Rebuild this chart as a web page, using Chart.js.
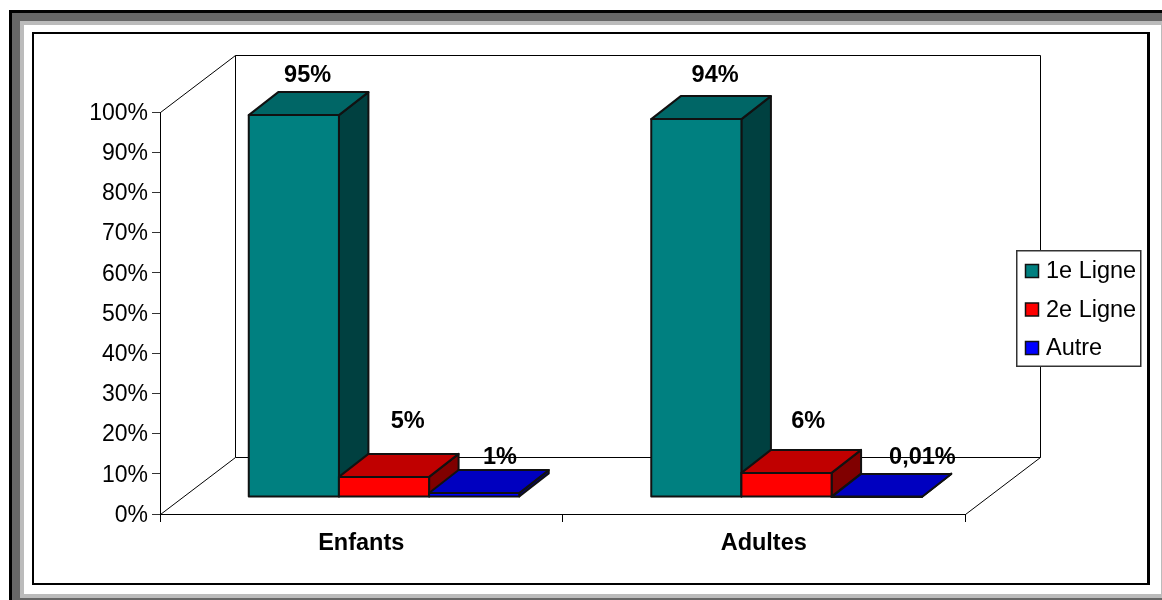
<!DOCTYPE html>
<html lang="fr">
<head>
<meta charset="utf-8">
<title>1e Ligne / 2e Ligne</title>
<script src="https://cdn.jsdelivr.net/npm/chart.js@4"></script>
<style>
  html, body { margin: 0; padding: 0; background: #fff; overflow: hidden; }
  #page { position: relative; width: 1162px; height: 600px; }
  #page div { position: absolute; }
  #page canvas { position: absolute; left: 0; top: 0; }
  #box { left: 32px; top: 32px; width: 1113px; height: 549px; border: 2px solid #000; border-right-width: 3px; border-bottom-width: 2px; }
</style>
</head>
<body>
<div id="page">
  <!-- picture frame, outer to inner -->
  <div style="left:9px;top:10px;width:1153px;height:590px;background:#000"></div>
  <div style="left:12px;top:13px;width:1150px;height:587px;background:#666"></div>
  <div style="left:20px;top:21px;width:1142px;height:577px;background:#bbb"></div>
  <div style="left:24px;top:25px;width:1137px;height:569px;background:#fff"></div>
  <div id="box"></div>
  <canvas id="chart" width="1162" height="600"></canvas>
</div>

<script>
    // --- Data ---
    const categories = ['Enfants', 'Adultes'];
    const firstLine = [95, 94];
    const secondLine = [5, 6];
    const otherLine = [1, 0.01];
    const seriesNames = ['1e Ligne', '2e Ligne', 'Autre'];

    // --- Colours: front, top and side of each bar ---
    const frontColors = ['#008080', '#ff0000', '#0000ff'];
    const topColors = ['#006666', '#c00000', '#0000c0'];
    const sideColors = ['#004040', '#800000', '#000080'];

    // --- 3D look ---
    const FONT = '"Liberation Sans", Arial, sans-serif';
    const floorDepth = { x: 75, y: -57 };  // front edge of the floor to the back wall
    const barDepth = { x: 29.5, y: -23 };
    const barShift = { x: 22.75, y: -17 }; // bars stand in the middle of the floor

    // Hand placed value labels, [dx, dy] from the middle of the back top edge
    const labelNudges = [
      [[-1, -17], [4, -21]],
      [[9, -32], [7, -28]],
      [[11, -12], [31, -16]]
    ];

    function polygon(ctx, points, fill) {
      ctx.beginPath();
      points.forEach((p, i) => i ? ctx.lineTo(p[0], p[1]) : ctx.moveTo(p[0], p[1]));
      ctx.closePath();
      ctx.fillStyle = fill;
      ctx.fill();
      ctx.stroke();
    }

    function drawWalls(chart) {
      const { left, right, top, bottom } = chart.chartArea;
      const dx = floorDepth.x;
      const dy = floorDepth.y;
      const ctx = chart.ctx;
      ctx.save();
      ctx.strokeStyle = '#000';
      ctx.lineWidth = 1;
      ctx.beginPath();
      // side wall, back wall and floor
      ctx.moveTo(left + 0.5, top + 0.5);
      ctx.lineTo(left + dx + 0.5, top + dy + 0.5);
      ctx.lineTo(right + dx + 0.5, top + dy + 0.5);
      ctx.lineTo(right + dx + 0.5, bottom + dy + 0.5);
      ctx.lineTo(left + dx + 0.5, bottom + dy + 0.5);
      ctx.lineTo(left + dx + 0.5, top + dy + 0.5);
      ctx.moveTo(left + 0.5, bottom + 0.5);
      ctx.lineTo(left + dx + 0.5, bottom + dy + 0.5);
      ctx.moveTo(right + 0.5, bottom + 0.5);
      ctx.lineTo(right + dx + 0.5, bottom + dy + 0.5);
      ctx.stroke();
      ctx.restore();
    }

    function drawBars(chart) {
      const ctx = chart.ctx;
      ctx.save();
      ctx.strokeStyle = '#111';
      ctx.lineWidth = 2;
      ctx.lineJoin = 'round';
      chart.data.datasets.forEach((dataset, d) => {
        chart.getDatasetMeta(d).data.forEach(bar => {
          const x0 = bar.x - bar.width / 2 + barShift.x;
          const x1 = bar.x + bar.width / 2 + barShift.x;
          const y0 = bar.base + barShift.y;
          const y1 = bar.y + barShift.y;
          const bx = barDepth.x;
          const by = barDepth.y;
          polygon(ctx, [[x1, y1], [x1 + bx, y1 + by], [x1 + bx, y0 + by], [x1, y0]], sideColors[d]);
          polygon(ctx, [[x0, y1], [x1, y1], [x1 + bx, y1 + by], [x0 + bx, y1 + by]], topColors[d]);
          polygon(ctx, [[x0, y1], [x1, y1], [x1, y0], [x0, y0]], dataset.backgroundColor);
        });
      });
      ctx.restore();
    }

    function drawValueLabels(chart) {
      const ctx = chart.ctx;
      ctx.save();
      ctx.font = 'bold 23.5px ' + FONT;
      ctx.fillStyle = '#000';
      ctx.textAlign = 'center';
      ctx.textBaseline = 'middle';
      chart.data.datasets.forEach((dataset, d) => {
        chart.getDatasetMeta(d).data.forEach((bar, i) => {
          const nudge = labelNudges[d][i];
          const x = bar.x + barShift.x + barDepth.x / 2 + nudge[0];
          const y = bar.y + barShift.y + barDepth.y + nudge[1];
          ctx.fillText(String(dataset.data[i]).replace('.', ',') + '%', x, y);
        });
      });
      ctx.restore();
    }

    function drawLegend(chart) {
      const ctx = chart.ctx;
      ctx.save();
      ctx.fillStyle = '#fff';
      ctx.fillRect(1016, 250, 125, 116);
      ctx.strokeStyle = '#333';
      ctx.lineWidth = 1.5;
      ctx.strokeRect(1016.75, 250.75, 124, 115.5);
      ctx.font = '23.5px ' + FONT;
      ctx.textBaseline = 'middle';
      chart.data.datasets.forEach((dataset, d) => {
        const rowY = 271 + d * 38.5;
        ctx.fillStyle = dataset.backgroundColor;
        ctx.fillRect(1025.5, rowY - 6.5, 13, 13);
        ctx.strokeStyle = '#111';
        ctx.lineWidth = 1.5;
        ctx.strokeRect(1025.5, rowY - 6.5, 13, 13);
        ctx.fillStyle = '#000';
        ctx.fillText(dataset.label, 1046, rowY + 1);
      });
      ctx.restore();
    }

    // Draws the walls and the solid bars in place of the flat ones
    const bars3d = {
      id: 'bars3d',
      beforeDatasetsDraw(chart) {
        drawWalls(chart);
        drawBars(chart);
        return false;
      },
      afterDraw(chart) {
        drawValueLabels(chart);
        drawLegend(chart);
      }
    };

    // --- Chart ---
    new Chart(document.getElementById('chart').getContext('2d'), {
      type: 'bar',
      data: {
        labels: categories,
        datasets: [
          { label: seriesNames[0], data: firstLine, backgroundColor: frontColors[0] },
          { label: seriesNames[1], data: secondLine, backgroundColor: frontColors[1] },
          { label: seriesNames[2], data: otherLine, backgroundColor: frontColors[2] }
        ]
      },
      plugins: [bars3d],
      options: {
        responsive: false,
        animation: false,
        categoryPercentage: 0.672,
        barPercentage: 1,
        layout: { padding: { left: 0, top: 112, right: 197, bottom: 0 } },
        plugins: { legend: { display: false }, tooltip: { enabled: false } },
        scales: {
          x: {
            afterFit(scale) { scale.height = 86; },
            grid: { drawOnChartArea: false, tickLength: 8, color: '#000', offset: true },
            border: { color: '#000', width: 1 },
            ticks: { color: '#000', padding: 7, maxRotation: 0, font: { family: FONT, size: 23.5, weight: 'bold' } }
          },
          y: {
            min: 0,
            max: 100,
            afterFit(scale) { scale.width = 160; },
            grid: { drawOnChartArea: false, tickLength: 8, color: '#333' },
            border: { color: '#000', width: 1 },
            ticks: {
              stepSize: 10,
              color: '#000',
              padding: 4,
              labelOffset: 1.5,
              font: { family: FONT, size: 23 },
              callback: value => value + '%'
            }
          }
        }
      }
    });
</script>
</body>
</html>
